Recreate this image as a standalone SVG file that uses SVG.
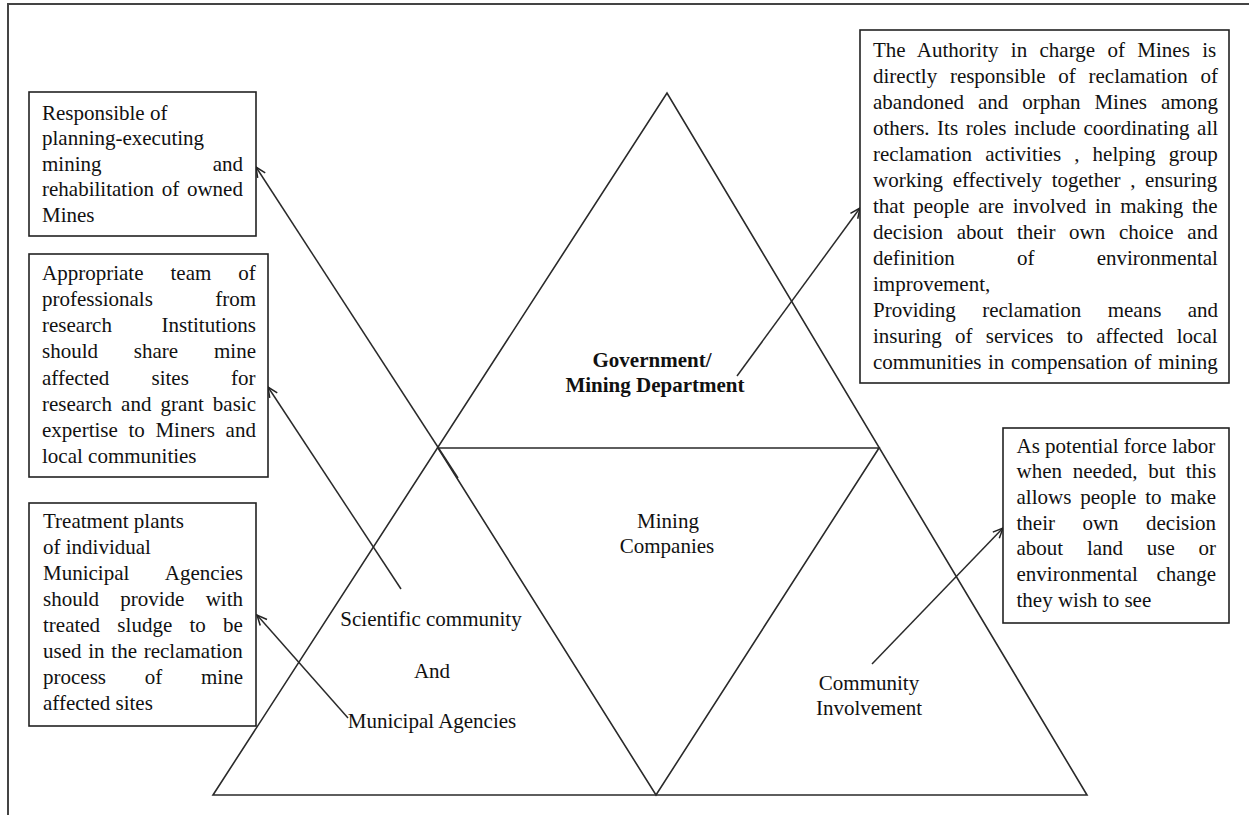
<svg xmlns="http://www.w3.org/2000/svg" width="1249" height="815" viewBox="0 0 1249 815">
<style>
.t{font-family:"Liberation Serif","Times New Roman",serif;font-size:21px;fill:#111}
.c{text-anchor:middle}
.e{text-anchor:end}
.b{font-weight:bold}
.box{fill:#fff;stroke:#222;stroke-width:1.6}
.ln{fill:none;stroke:#2a2a2a;stroke-width:1.6}
.ar{fill:none;stroke:#2a2a2a;stroke-width:1.5;marker-end:url(#ah)}
</style>
<defs>
<marker id="ah" viewBox="0 0 12 12" refX="11" refY="6" markerWidth="12" markerHeight="12" markerUnits="userSpaceOnUse" orient="auto">
<path d="M1,1.5 L11,6 L1,10.5" fill="none" stroke="#222" stroke-width="1.5"/>
</marker>
</defs>
<rect x="0" y="0" width="1249" height="815" fill="#fff"/>
<rect x="8" y="4" width="1270" height="840" fill="none" stroke="#444" stroke-width="2"/>

<g id="pyramid">
<polygon class="ln" points="213,795 667,93 1087,795"/>
<polygon class="ln" points="438,448 879,448 656,795"/>
</g>

<g id="connectors">
<line class="ar" x1="458" y1="478" x2="256" y2="167"/>
<line class="ar" x1="401" y1="589" x2="268" y2="387"/>
<line class="ar" x1="348" y1="718" x2="257" y2="615"/>
<line class="ar" x1="737" y1="376" x2="860" y2="208"/>
<line class="ar" x1="872" y1="664" x2="1003" y2="528"/>
</g>

<g id="government">
<text class="t b c" x="652" y="367">Government/</text>
<text class="t b c" x="655" y="392">Mining Department</text>
</g>
<g id="mining-companies">
<text class="t c" x="668" y="528">Mining</text>
<text class="t c" x="667" y="553">Companies</text>
</g>
<g id="community-involvement">
<text class="t c" x="869" y="690">Community</text>
<text class="t c" x="869" y="715">Involvement</text>
</g>
<g id="scientific-municipal">
<text class="t c" x="431" y="626">Scientific community</text>
<text class="t c" x="432" y="678">And</text>
<text class="t c" x="432" y="728">Municipal Agencies</text>
</g>

<g id="box-owners">
<rect class="box" x="29" y="92" width="227" height="144"/>
<text class="t" x="42" y="119.5">Responsible of</text>
<text class="t" x="42" y="145">planning-executing</text>
<text class="t" x="42" y="170.5">mining</text><text class="t e" x="243" y="170.5">and</text>
<text class="t" x="42" y="196" word-spacing="2.5">rehabilitation of owned</text>
<text class="t" x="42" y="221.5">Mines</text>
</g>

<g id="box-research">
<rect class="box" x="29" y="254" width="239" height="223"/>
<text class="t" x="42" y="280" word-spacing="21.8">Appropriate team of</text>
<text class="t" x="42" y="306">professionals</text><text class="t e" x="256" y="306">from</text>
<text class="t" x="42" y="332">research</text><text class="t e" x="256" y="332">Institutions</text>
<text class="t" x="42" y="358" word-spacing="30.6">should share mine</text>
<text class="t" x="42" y="384.5" word-spacing="37">affected sites for</text>
<text class="t" x="42" y="410.5" word-spacing="3.9">research and grant basic</text>
<text class="t" x="42" y="436.5" word-spacing="5.4">expertise to Miners and</text>
<text class="t" x="42" y="462.5">local communities</text>
</g>

<g id="box-municipal">
<rect class="box" x="29" y="503" width="227" height="223"/>
<text class="t" x="43" y="527.5">Treatment plants</text>
<text class="t" x="43" y="553.5">of individual</text>
<text class="t" x="43" y="579.5">Municipal</text><text class="t e" x="243" y="579.5">Agencies</text>
<text class="t" x="43" y="605.5" word-spacing="16">should provide with</text>
<text class="t" x="43" y="631.5" word-spacing="12">treated sludge to be</text>
<text class="t" x="43" y="657.5" word-spacing="1.5">used in the reclamation</text>
<text class="t" x="43" y="683.5" word-spacing="33.5">process of mine</text>
<text class="t" x="43" y="709.5">affected sites</text>
</g>

<g id="box-authority">
<rect class="box" x="860" y="30" width="369" height="353"/>
<text class="t" x="873" y="56.5" word-spacing="7.1">The Authority in charge of Mines is</text>
<text class="t" x="873" y="82.5" word-spacing="7.5">directly responsible of reclamation of</text>
<text class="t" x="873" y="108.5" word-spacing="8.7">abandoned and orphan Mines among</text>
<text class="t" x="873" y="134.5" word-spacing="2.3">others. Its roles include coordinating all</text>
<text class="t" x="873" y="160.5" word-spacing="7.9">reclamation activities , helping group</text>
<text class="t" x="873" y="186.5" word-spacing="4.4">working effectively together , ensuring</text>
<text class="t" x="873" y="212.5" word-spacing="3.6">that people are involved in making the</text>
<text class="t" x="873" y="238.5" word-spacing="8.4">decision about their own choice and</text>
<text class="t" x="873" y="264.5" word-spacing="57">definition of environmental</text>
<text class="t" x="873" y="290.5">improvement,</text>
<text class="t" x="873" y="316.5" word-spacing="21.1">Providing reclamation means and</text>
<text class="t" x="873" y="342.5" word-spacing="8">insuring of services to affected local</text>
<text class="t" x="873" y="368.5" word-spacing="1.3">communities in compensation of mining</text>
</g>

<g id="box-community">
<rect class="box" x="1003" y="428" width="226" height="195"/>
<text class="t" x="1016.5" y="452.7">As potential force labor</text>
<text class="t" x="1016.5" y="478.4" word-spacing="5.5">when needed, but this</text>
<text class="t" x="1016.5" y="504" word-spacing="3.7">allows people to make</text>
<text class="t" x="1016.5" y="529.7" word-spacing="22.2">their own decision</text>
<text class="t" x="1016.5" y="555.4" word-spacing="18.5">about land use or</text>
<text class="t" x="1016.5" y="581">environmental</text><text class="t e" x="1216" y="581">change</text>
<text class="t" x="1016.5" y="606.7">they wish to see</text>
</g>
</svg>
